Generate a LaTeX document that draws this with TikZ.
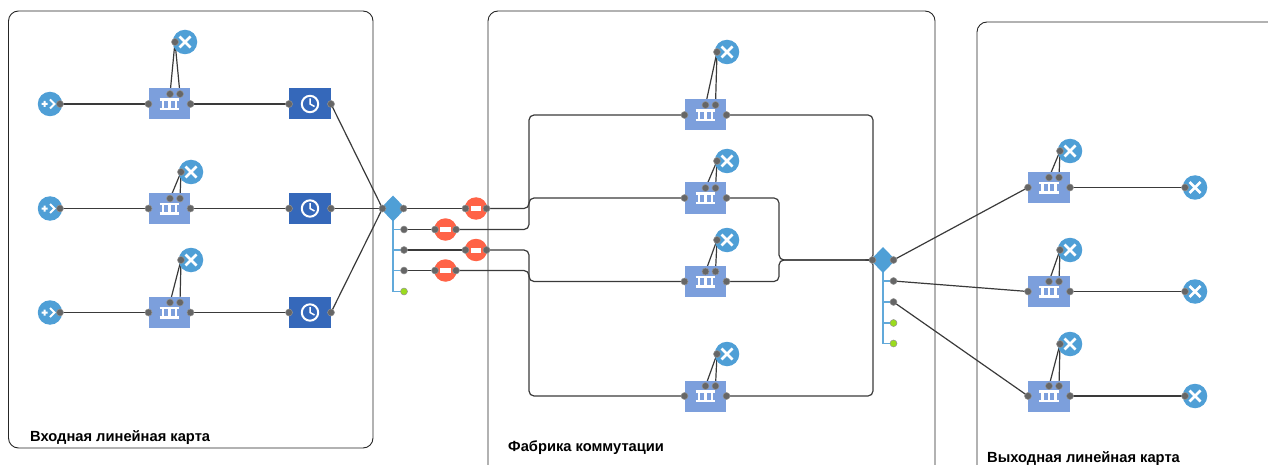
\documentclass[tikz,border=0pt]{standalone}
\usepackage{fontspec}
\setmainfont{Liberation Sans}
\pgfdeclarelayer{bg}\pgfdeclarelayer{links}
\pgfsetlayers{bg,links,main}
\definecolor{sinkc}{HTML}{4F9FD6}
\definecolor{queuec}{HTML}{7C9FDC}
\definecolor{delayc}{HTML}{3568BA}
\definecolor{holdc}{HTML}{FF6347}
\definecolor{portc}{HTML}{666666}
\definecolor{greenc}{HTML}{9BDB1E}
\definecolor{linkc}{HTML}{3A3A3A}
\tikzset{
 x=1pt,y=-1pt,
 port/.style={circle,fill=portc,draw=white!30!portc,line width=.5pt,minimum size=7pt,inner sep=0},
 gport/.style={circle,fill=greenc,draw=white!30!portc,line width=.5pt,minimum size=7pt,inner sep=0},
 roundn/.style={circle,minimum size=24.5pt,inner sep=0},
 boxn/.style={rectangle,minimum width=41.5pt,minimum height=31pt,inner sep=0},
 contain/.style={draw=black!85,line width=.9pt,rounded corners=10pt},
 lnk/.style={draw=linkc,line width=1.2pt},
 rlnk/.style={lnk,rounded corners=5pt},
 busline/.style={draw=sinkc!90!white,line width=1.9pt},
 iconline/.style={draw=white,line width=2.1pt},
 captext/.style={font=\bfseries\fontsize{14.7}{16}\selectfont,anchor=base west,inner sep=0},
}
% sink: name, x, y
\newcommand{\sinkn}[3]{%
 \node[roundn,fill=sinkc] (#1) at (#2,#3) {};
 \draw[white,line width=2.6pt] (#2-5.5,#3-5.5) -- (#2+5.5,#3+5.5) (#2-5.5,#3+5.5) -- (#2+5.5,#3-5.5);
 \node[port] (#1-p) at (#2-10,#3) {};}
% queue: name, x, y, top-port shift
\newcommand{\queuen}[4]{%
 \node[boxn,fill=queuec] (#1) at (#2,#3) {};
 \draw[iconline] (#2-10,#3-4.5) -- (#2+9.5,#3-4.5) (#2-10,#3+5) -- (#2+9.5,#3+5)
   (#2-6.5,#3-4.5) -- (#2-6.5,#3+5) (#2,#3-4.5) -- (#2,#3+5) (#2+6.5,#3-4.5) -- (#2+6.5,#3+5);
 \node[port] (#1-l) at (#2-21,#3) {};
 \node[port] (#1-r) at (#2+21,#3) {};
 \node[port] (#1-a) at (#2+#4,#3-10) {};
 \node[port] (#1-b) at (#2+#4+10,#3-10) {};}
% source
\newcommand{\sourcen}[3]{%
 \node[roundn,fill=sinkc] (#1) at (#2,#3) {};
 \draw[white,line width=2pt] (#2-8.5,#3) -- (#2-2.5,#3) (#2-5.5,#3-3) -- (#2-5.5,#3+3)
    (#2,#3-4.5) -- (#2+4.5,#3) -- (#2,#3+4.5);
 \node[port] (#1-p) at (#2+10,#3) {};}
% delay
\newcommand{\delayn}[3]{%
 \node[boxn,fill=delayc] (#1) at (#2,#3) {};
 \draw[iconline,line width=2pt] (#2,#3) circle (8.2pt);
 \draw[white,line width=1.5pt] (#2,#3-5.5) -- (#2,#3) -- (#2+4.5,#3+2.5);
 \node[port] (#1-l) at (#2-21,#3) {};
 \node[port] (#1-r) at (#2+21,#3) {};}
% hold
\newcommand{\holdn}[3]{%
 \node[roundn,fill=holdc,minimum size=22.5pt] (#1) at (#2,#3) {};
 \fill[white] (#2-5.3,#3-2.5) rectangle (#2+5.3,#3+2.5);
 \node[port] (#1-l) at (#2-10.5,#3) {};
 \node[port] (#1-r) at (#2+10.5,#3) {};}
% diamond
\newcommand{\selectn}[3]{%
 \fill[sinkc] (#2,#3-13) -- (#2+12.5,#3) -- (#2,#3+13) -- (#2-12.5,#3) -- cycle;
 \node[port] (#1-l) at (#2-10.5,#3) {};
 \node[port] (#1-r) at (#2+10.5,#3) {};
 \coordinate (#1) at (#2,#3);}
\begin{document}
\begin{tikzpicture}
\useasboundingbox (0,0) rectangle (1268,465);
\begin{pgfonlayer}{bg}
 \path[contain,draw] (8.5,11) rectangle (373,448);
 \begin{scope}
 \clip (0,0) rectangle (1268,465);
 \path[contain,draw] (488,11) rectangle (935,490);
 \path[contain,draw] (977,22) rectangle (1300,490);
 \end{scope}
\end{pgfonlayer}
\node[captext] (t1) at (30,441) {Входная линейная карта};
\node[captext] (t2) at (508,451) {Фабрика коммутации};
\node[captext] (t3) at (987,462) {Выходная линейная карта};
% input card
\sourcen{s1}{50}{104}\sourcen{s2}{50}{208.5}\sourcen{s3}{50}{312.5}
\queuen{a1}{169.5}{104}{.5}\queuen{a2}{169.5}{208.5}{.5}\queuen{a3}{169.5}{312.5}{.5}
\sinkn{x1}{185}{42}\sinkn{x2}{191}{172}\sinkn{x3}{191}{260}
\delayn{d1}{310}{104}\delayn{d2}{310}{208.5}\delayn{d3}{310}{312.5}
% select 1
\selectn{u}{393}{208.5}
\node[port] (u2) at (404,229.5) {};
\node[port] (u3) at (404,250) {};
\node[port] (u4) at (404,270.5) {};
\node[gport] (u5) at (404,291.5) {};
\holdn{h1}{476}{208.5}\holdn{h2}{445.5}{229.5}\holdn{h3}{476}{250}\holdn{h4}{445.5}{270.5}
% fabric
\queuen{b1}{705.5}{115}{0}\queuen{b2}{705.5}{198}{0}\queuen{b3}{705.5}{281.5}{0}\queuen{b4}{705.5}{396}{0}
\sinkn{y1}{727}{52}\sinkn{y2}{727}{161}\sinkn{y3}{727}{240}\sinkn{y4}{727}{354}
\coordinate (busa) at (529,0);
\coordinate (busb) at (873,0);
\coordinate (busc) at (779,0);
% select 2
\selectn{v}{883}{260}
\node[port] (v2) at (893.5,281) {};
\node[port] (v3) at (893.5,302) {};
\node[gport] (v4) at (893.5,323) {};
\node[gport] (v5) at (893.5,343.5) {};
% output card
\queuen{c1}{1049}{187.5}{0}\queuen{c2}{1049}{291.5}{0}\queuen{c3}{1049}{396}{0}
\sinkn{z1}{1070}{151}\sinkn{z2}{1070}{250}\sinkn{z3}{1070}{344}
\sinkn{e1}{1195}{187.5}\sinkn{e2}{1195}{291.5}\sinkn{e3}{1195}{396}
\begin{pgfonlayer}{links}
 \foreach \i in {1,2,3}{
  \path[lnk] (s\i-p.center) -- (a\i-l.center);
  \path[lnk] (a\i-r.center) -- (d\i-l.center);
  \path[lnk] (x\i-p.center) -- (a\i-a.center);
  \path[lnk] (x\i-p.center) -- (a\i-b.center);
  \path[lnk] (d\i-r.center) -- (u-l.center);
  \path[lnk] (z\i-p.center) -- (c\i-a.center);
  \path[lnk] (z\i-p.center) -- (c\i-b.center);
  \path[lnk] (c\i-r.center) -- (e\i-p.center);
 }
 \foreach \i in {1,2,3,4}{
  \path[lnk] (y\i-p.center) -- (b\i-a.center);
  \path[lnk] (y\i-p.center) -- (b\i-b.center);
 }
 \path[lnk] (u-r.center) -- (h1-l.center);
 \path[lnk] (u2.center) -- (h2-l.center);
 \path[lnk] (u3.center) -- (h3-l.center);
 \path[lnk] (u4.center) -- (h4-l.center);
 \path[rlnk] (h1-r.center) -- (h1-r.center -| busa) -- (busa |- b1-l.center) -- (b1-l.center);
 \path[rlnk] (h2-r.center) -- (h2-r.center -| busa) -- (busa |- b2-l.center) -- (b2-l.center);
 \path[rlnk] (h3-r.center) -- (h3-r.center -| busa) -- (busa |- b3-l.center) -- (b3-l.center);
 \path[rlnk] (h4-r.center) -- (h4-r.center -| busa) -- (busa |- b4-l.center) -- (b4-l.center);
 \path[rlnk] (b1-r.center) -- (b1-r.center -| busb) -- (busb |- v-l.center) -- (v-l.center);
 \path[rlnk] (b4-r.center) -- (b4-r.center -| busb) -- (busb |- v-l.center) -- (v-l.center);
 \path[rlnk] (b2-r.center) -- (b2-r.center -| busc) -- (busc |- v-l.center) -- (v-l.center);
 \path[rlnk] (b3-r.center) -- (b3-r.center -| busc) -- (busc |- v-l.center) -- (v-l.center);
 \path[lnk] (v-r.center) -- (c1-l.center);
 \path[lnk] (v2.center) -- (c2-l.center);
 \path[lnk] (v3.center) -- (c3-l.center);
 \path[busline] (u.center) -- (u.center |- u5.center) -- (u5.center);
 \path[busline] (u.center |- u2.center) -- (u2.center);
 \path[busline] (u.center |- u3.center) -- (u3.center);
 \path[busline] (u.center |- u4.center) -- (u4.center);
 \path[busline] (v.center) -- (v.center |- v5.center) -- (v5.center);
 \path[busline] (v.center |- v2.center) -- (v2.center);
 \path[busline] (v.center |- v3.center) -- (v3.center);
 \path[busline] (v.center |- v4.center) -- (v4.center);
\end{pgfonlayer}
\end{tikzpicture}
\end{document}
